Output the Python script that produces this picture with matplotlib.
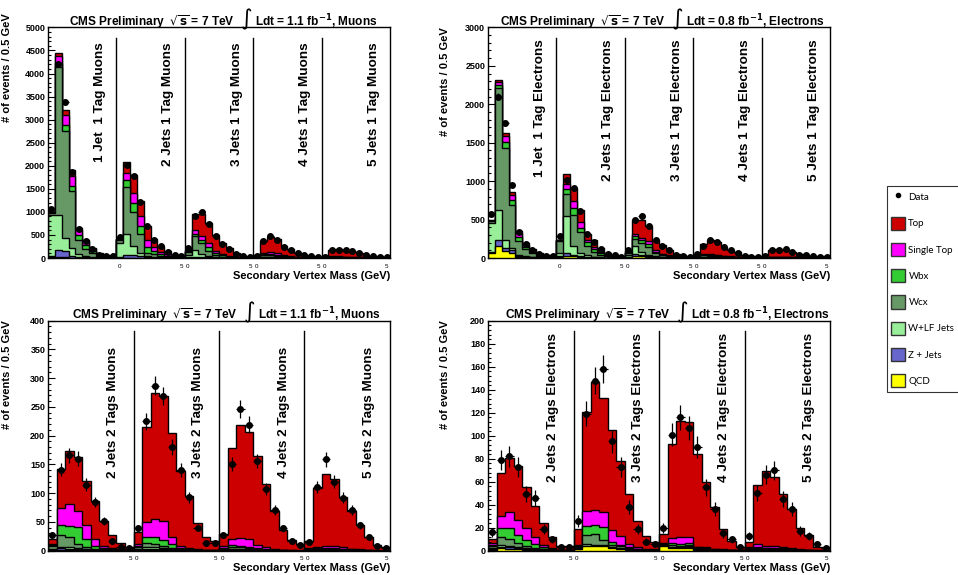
import numpy as np
import matplotlib
matplotlib.use('Agg')
import matplotlib.pyplot as plt
from matplotlib.patches import Patch
from matplotlib.lines import Line2D
from matplotlib.ticker import MultipleLocator
import matplotlib.transforms as mtransforms

plt.rcParams['font.family'] = ['Liberation Sans', 'DejaVu Sans']
plt.rcParams['mathtext.fontset'] = 'dejavusans'
plt.rcParams['mathtext.default'] = 'bf'

# stacking order, bottom to top
samples = ['QCD', 'Z + Jets', 'W+LF Jets', 'Wcx', 'Wbx', 'Single Top', 'Top']
colors = ['#ffff00', '#6666cc', '#99ee99', '#669966', '#33cc33', '#ff00ff', '#cc0000']

# ---- muons, 1 tag (1..5 jets), 10 bins of 0.5 GeV per jet bin ----
mu1_qcd = [20, 25, 20, 10, 5, 3, 2, 1, 0, 0,   5, 5, 5, 3, 2, 1, 1, 0, 0, 0,
           3, 5, 4, 3, 2, 1, 0, 0, 0, 0,       1, 3, 3, 2, 1, 1, 0, 0, 0, 0,
           0, 1, 1, 1, 0, 0, 0, 0, 0, 0]
mu1_z = [30, 155, 130, 40, 20, 10, 5, 3, 2, 1,  20, 60, 50, 30, 15, 8, 4, 2, 1, 1,
         10, 20, 15, 10, 6, 3, 2, 1, 0, 0,     2, 8, 8, 6, 4, 2, 1, 1, 0, 0,
         1, 2, 2, 2, 1, 1, 0, 0, 0, 0]
mu1_wlf = [890, 760, 290, 170, 60, 30, 15, 8, 4, 2,  300, 450, 200, 80, 30, 15, 8, 5, 2, 1,
           60, 140, 74, 37, 20, 10, 5, 3, 1, 1,     5, 20, 15, 10, 6, 4, 2, 1, 1, 0,
           2, 4, 4, 3, 2, 2, 1, 1, 0, 0]
mu1_wcx = [40, 3210, 2310, 1230, 305, 160, 80, 40, 23, 14,  75, 1016, 734, 407, 61, 56, 32, 18, 9, 5,
           50, 318, 232, 94, 32, 16, 10, 5, 3, 2,           8, 35, 35, 25, 15, 8, 4, 3, 2, 1,
           4, 8, 8, 6, 5, 4, 3, 2, 1, 1]
mu1_wbx = [10, 80, 130, 110, 100, 70, 50, 25, 13, 8,  6, 152, 203, 180, 122, 65, 45, 25, 12, 7,
           15, 37, 72, 86, 40, 25, 15, 8, 4, 3,       5, 25, 30, 25, 15, 10, 6, 4, 2, 2,
           3, 8, 8, 7, 6, 5, 3, 2, 2, 1]
mu1_st = [5, 150, 220, 220, 110, 90, 40, 20, 10, 5,  3, 160, 217, 217, 167, 85, 50, 30, 15, 9,
          12, 94, 86, 95, 45, 25, 15, 8, 4, 3,       4, 25, 30, 30, 20, 12, 8, 5, 3, 2,
          2, 10, 12, 10, 8, 6, 4, 3, 2, 2]
mu1_top = [5, 75, 100, 120, 40, 37, 23, 13, 8, 5,  3, 247, 391, 311, 303, 182, 127, 65, 33, 20,
           15, 339, 470, 434, 360, 245, 162, 83, 38, 31,  30, 259, 334, 314, 206, 151, 87, 58, 35, 25,
           18, 132, 160, 136, 115, 90, 61, 42, 31, 26]
mu1_data = [1060, 4200, 3380, 1870, 620, 370, 195, 75, 50, 35,  448, 2023, 1785, 1206, 686, 400, 260, 130, 70, 40,
            217, 905, 1000, 737, 477, 314, 199, 94, 43, 20,     50, 360, 470, 390, 245, 165, 100, 58, 36, 20,
            30, 165, 180, 175, 145, 100, 72, 50, 20, 15]

# ---- electrons, 1 tag ----
el1_qcd = [60, 152, 87, 65, 10, 5, 3, 2, 1, 1,  10, 30, 20, 10, 5, 3, 2, 1, 1, 0,
           8, 30, 25, 15, 8, 4, 2, 1, 1, 0,     2, 5, 5, 4, 3, 2, 1, 1, 0, 0,
           1, 2, 2, 2, 1, 1, 0, 0, 0, 0]
el1_z = [20, 86, 43, 43, 15, 8, 4, 2, 1, 1,  10, 35, 25, 15, 8, 5, 3, 2, 1, 1,
         5, 20, 15, 10, 5, 3, 2, 1, 1, 0,    2, 3, 4, 3, 2, 1, 1, 0, 0, 0,
         1, 1, 1, 1, 1, 0, 0, 0, 0, 0]
el1_wlf = [380, 391, 108, 22, 15, 8, 5, 3, 2, 1,  40, 485, 107, 40, 20, 10, 5, 3, 2, 1,
           20, 100, 40, 20, 10, 6, 4, 2, 1, 1,    6, 10, 8, 6, 4, 3, 2, 1, 1, 0,
           2, 3, 3, 2, 2, 1, 1, 1, 0, 0]
el1_wcx = [15, 1582, 1193, 564, 180, 90, 50, 25, 15, 8,  160, 287, 412, 273, 119, 60, 30, 15, 10, 6,
           30, 97, 120, 95, 37, 20, 12, 6, 4, 2,         8, 15, 15, 12, 8, 5, 4, 2, 1, 1,
           3, 5, 5, 4, 3, 2, 2, 1, 1, 1]
el1_wbx = [8, 43, 73, 65, 50, 30, 20, 12, 7, 4,  8, 65, 86, 52, 52, 35, 20, 10, 6, 4,
           8, 35, 30, 40, 20, 12, 8, 4, 3, 2,    3, 8, 10, 10, 7, 5, 3, 2, 1, 1,
           2, 4, 4, 4, 3, 2, 2, 1, 1, 1]
el1_st = [4, 35, 78, 65, 50, 30, 20, 12, 7, 4,  5, 65, 87, 74, 34, 30, 20, 10, 6, 4,
          6, 30, 30, 40, 20, 13, 8, 4, 3, 2,    2, 6, 8, 8, 6, 5, 3, 2, 2, 1,
          1, 3, 4, 4, 3, 2, 2, 1, 1, 1]
el1_top = [3, 26, 44, 39, 35, 24, 15, 9, 6, 3,  5, 130, 173, 165, 78, 87, 50, 24, 17, 14,
           10, 178, 230, 192, 138, 115, 72, 38, 26, 15,  20, 135, 180, 165, 113, 87, 64, 35, 25, 19,
           12, 90, 98, 91, 65, 48, 36, 26, 19, 19]
el1_data = [570, 2100, 1756, 945, 334, 182, 108, 56, 30, 22,  282, 1019, 906, 607, 316, 208, 121, 48, 35, 17,
            100, 490, 542, 420, 230, 152, 100, 39, 30, 17,    52, 152, 230, 204, 143, 100, 65, 30, 13, 9,
            22, 100, 100, 117, 74, 43, 35, 22, 9, 17]

# ---- muons, 2 tags (2..5 jets) ----
mu2_qcd = [0.5, 1, 1, 0.8, 0.5, 0.3, 0.2, 0.1, 0, 0,  0.5, 1, 1, 0.8, 0.5, 0.3, 0.2, 0.1, 0, 0,
           0.3, 0.5, 0.5, 0.4, 0.3, 0.2, 0.1, 0.1, 0, 0,  0.2, 0.3, 0.3, 0.3, 0.2, 0.1, 0.1, 0, 0, 0]
mu2_z = [1, 3, 2.5, 1.5, 1, 0.8, 0.4, 0.2, 0.1, 0,  1, 1.9, 1.9, 1.5, 1, 0.5, 0.3, 0.2, 0.1, 0.1,
         0.5, 1, 1, 0.8, 0.5, 0.4, 0.2, 0.1, 0.1, 0,  0.5, 0.5, 0.5, 0.5, 0.4, 0.3, 0.2, 0.1, 0, 0]
mu2_wlf = [2, 3, 2.5, 1.7, 1.5, 0.8, 0.5, 0.3, 0.2, 0.1,  1.5, 2.9, 2.9, 2.3, 1.5, 0.7, 0.5, 0.3, 0.2, 0.1,
           1, 1.5, 1.5, 1.2, 0.8, 0.6, 0.3, 0.2, 0.1, 0.1,  0.8, 0.8, 0.8, 0.8, 0.6, 0.4, 0.3, 0.2, 0.1, 0]
mu2_wcx = [4, 20, 17, 7, 2.8, 1, 1, 0.5, 0.3, 0.2,  3, 7, 5.8, 3.4, 1.6, 1, 0.5, 0.3, 0.2, 0.2,
           2, 4, 3, 2.6, 1.2, 0.8, 0.4, 0.2, 0.1, 0.1,  1.3, 1.5, 1.5, 1.3, 1, 0.6, 0.4, 0.2, 0.1, 0.1]
mu2_wbx = [2, 18, 20.5, 29.6, 14, 5.8, 2, 1, 0.5, 0.3,  2, 11.5, 11.4, 10.5, 7, 1.5, 1, 0.5, 0.3, 0.2,
           1.5, 3, 2, 2, 1.2, 1, 0.5, 0.3, 0.2, 0.1,  1, 1.4, 1.5, 1.3, 1, 0.8, 0.5, 0.3, 0.1, 0.1]
mu2_st = [2, 29, 37, 29, 25, 11, 4, 2, 1, 0.5,  3, 26, 33, 33, 11.4, 4, 2, 1, 0.5, 0.4,
          2.5, 9.7, 14.6, 12.7, 5.9, 4, 2, 1, 0.5, 0.3,  1.5, 2.5, 4.1, 3.5, 2.5, 1.6, 1, 0.5, 0.3, 0.2]
mu2_top = [8.5, 68, 92.5, 93.4, 76.4, 66.3, 44, 23, 11, 5,  22, 164.6, 217.6, 218, 181, 131, 91, 46, 23, 16.4,
           20.5, 158.3, 196.4, 187.3, 155, 109.5, 65, 33.5, 17.6, 11,  11.5, 102.6, 124.3, 117, 88.3, 65.8, 42, 22, 9.3, 5.4]
mu2_data = [28, 141, 166, 160, 115, 85, 52, 17, 7, 5,  39, 225, 287, 269, 180, 140, 93, 40, 13, 14,
            28, 151, 246, 219, 156, 108, 71, 39, 17, 10,  16, 110, 159, 120, 92, 71, 44, 23, 8, 4]

# ---- electrons, 2 tags ----
el2_qcd = [0.5, 2, 1.5, 1.2, 1, 0.7, 0.5, 0.3, 0.1, 0.1,  1.5, 4, 4, 4, 2, 1.5, 1, 0.5, 0.3, 0.2,
           4, 2, 2, 2.5, 1, 0.5, 0.3, 0.2, 0.1, 0,  0.5, 0.8, 0.6, 0.6, 0.5, 0.4, 0.2, 0.1, 0, 0]
el2_z = [1, 1, 1.4, 1, 0.8, 0.6, 0.4, 0.2, 0.1, 0.1,  0.5, 0.5, 0.5, 0.5, 0.5, 0.4, 0.3, 0.2, 0.1, 0.1,
         0.5, 0.5, 0.5, 0.5, 0.3, 0.3, 0.2, 0.1, 0.1, 0,  0.3, 0.4, 0.3, 0.3, 0.3, 0.2, 0.1, 0.1, 0, 0]
el2_wlf = [1, 2, 1.1, 0.7, 0.7, 0.5, 0.4, 0.2, 0.1, 0.1,  0.5, 0.9, 0.4, 0.4, 0.4, 0.3, 0.2, 0.2, 0.1, 0.1,
           0.5, 1, 1, 1, 0.5, 0.3, 0.2, 0.1, 0.1, 0,  0.3, 0.5, 0.4, 0.4, 0.3, 0.2, 0.1, 0.1, 0, 0]
el2_wcx = [1.5, 6.6, 5.9, 3.5, 1.8, 0.8, 0.5, 0.3, 0.1, 0.1,  1, 8.2, 9.6, 4.4, 2, 1.5, 0.6, 0.4, 0.2, 0.1,
           0.5, 1.4, 1, 1, 0.5, 0.5, 0.3, 0.2, 0.1, 0.1,  0.5, 0.8, 0.7, 0.6, 0.5, 0.4, 0.2, 0.1, 0.1, 0.1]
el2_wbx = [1, 7.8, 10.1, 7.2, 5, 2.9, 1.1, 0.5, 0.2, 0.2,  0.5, 8.1, 7.8, 11.6, 2.9, 1.2, 0.8, 0.5, 0.3, 0.2,
           0.5, 1.5, 1.5, 2, 0.5, 0.5, 0.3, 0.2, 0.1, 0.1,  0.5, 0.8, 0.7, 0.6, 0.5, 0.4, 0.2, 0.1, 0.1, 0.1]
el2_st = [1.5, 11, 13.3, 13.1, 10.1, 6.1, 2, 1, 0.4, 0.4,  1, 13.1, 13.1, 12.4, 10.2, 7.9, 2.9, 1.5, 0.8, 0.5,
          1, 4.9, 5.6, 4.6, 0.7, 0.8, 0.5, 0.3, 0.2, 0.1,  1, 2.2, 1.6, 1.5, 1.4, 0.8, 0.4, 0.3, 0.1, 0.1]
el2_top = [3.4, 37.6, 47, 46.9, 35.6, 27.2, 19.4, 9.1, 3.3, 3,  13.8, 86.2, 111, 99.7, 87, 65.2, 43.2, 22.5, 11, 6.6,
           7.2, 81.2, 101.4, 100, 80.3, 57.1, 35.9, 17.5, 7.7, 3.2,  4.7, 51.5, 65.3, 60.3, 45.5, 33.6, 18.2, 12.5, 3.2, 2.6]
el2_data = [16, 79, 82, 73, 49, 46, 19, 10, 3.5, 3.5,  26, 119, 148, 158, 95, 73, 38, 19, 8, 6,
            20, 101, 116, 107, 90, 55, 36, 15, 10, 3,  13, 50, 66, 70, 45, 36, 17, 13, 6, 2]

mu1_labels = ['1 Jet  1 Tag Muons', '2 Jets 1 Tag Muons', '3 Jets 1 Tag Muons',
              '4 Jets 1 Tag Muons', '5 Jets 1 Tag Muons']
el1_labels = ['1 Jet  1 Tag Electrons', '2 Jets 1 Tag Electrons', '3 Jets 1 Tag Electrons',
              '4 Jets 1 Tag Electrons', '5 Jets 1 Tag Electrons']
mu2_labels = ['2 Jets 2 Tags Muons', '3 Jets 2 Tags Muons', '4 Jets 2 Tags Muons', '5 Jets 2 Tags Muons']
el2_labels = ['2 Jets 2 Tags Electrons', '3 Jets 2 Tags Electrons', '4 Jets 2 Tags Electrons',
              '5 Jets 2 Tags Electrons']

title_left = r'CMS Preliminary  $\sqrt{s}$ = 7 TeV'
mu_lumi = r'Ldt = 1.1 fb$^{-1}$, Muons'
el_lumi = r'Ldt = 0.8 fb$^{-1}$, Electrons'


def draw_panel(ax, comps, data, labels, ymax, major, minor, lumi, int_x, lab_y, first_lo):
    nb = len(data)
    nsec = nb // 10
    edges = np.arange(nb + 1) * 0.5
    cum = np.cumsum(np.array(comps, dtype=float), axis=0)
    for k in range(len(comps) - 1, -1, -1):
        ax.stairs(cum[k], edges, fill=True, facecolor=colors[k], edgecolor='black', linewidth=1.0)
    d = np.array(data, dtype=float)
    centers = edges[:-1] + 0.25
    ax.errorbar(centers, d, yerr=np.sqrt(d), xerr=0.25, fmt='o', color='black',
                ms=4, elinewidth=0.9, capsize=0, zorder=5)

    trans = mtransforms.blended_transform_factory(ax.transData, ax.transAxes)
    for i in range(1, nsec):
        ax.axvline(5 * i, ymin=0, ymax=0.955, color='black', lw=1.0)
    for i, lab in enumerate(labels):
        ax.text(5 * i + 3.8, lab_y, lab, transform=trans, rotation=90, ha='center', va='top',
                fontsize=9.7, fontweight='bold')

    # per-jet-bin axis numbers under the frame
    for i in range(nsec):
        if i == 0 and not first_lo:
            continue
        if i > 0:
            ax.text(5 * i + 0.08, -0.035, '0', transform=trans, ha='left', va='center', fontsize=4.5)
        ax.text(5 * (i + 1) - 0.1, -0.035, '5', transform=trans, ha='right', va='center', fontsize=4.5)

    # header: CMS Preliminary ... with a tall integral sign
    ax.text(int_x - 0.036, 1.006, title_left, transform=ax.transAxes, ha='right', va='baseline',
            fontsize=8.6, fontweight='bold')
    ax.text(int_x, 1.035, '\u222b', transform=ax.transAxes, ha='center', va='center',
            fontsize=16, family='DejaVu Sans')
    ax.text(int_x + 0.024, 1.006, lumi, transform=ax.transAxes, ha='left', va='baseline',
            fontsize=8.6, fontweight='bold')

    ax.set_xlim(0, nb * 0.5)
    ax.set_ylim(0, ymax)
    ax.set_xticks([])
    ax.yaxis.set_major_locator(MultipleLocator(major))
    ax.yaxis.set_minor_locator(MultipleLocator(minor))
    ax.tick_params(axis='y', which='major', direction='in', length=5, width=0.8, labelsize=6.5, pad=2)
    ax.tick_params(axis='y', which='minor', direction='in', length=2.5, width=0.8)
    for t in ax.get_yticklabels():
        t.set_fontweight('bold')
    for s in ax.spines.values():
        s.set_linewidth(1.0)
    ax.set_ylabel('# of events / 0.5 GeV', fontsize=8, fontweight='bold', loc='top')
    ax.set_xlabel('Secondary Vertex Mass (GeV)', fontsize=8, fontweight='bold', loc='right')
    ax.xaxis.set_label_coords(1.0, -0.055)


fig = plt.figure(figsize=(9.58, 5.75), dpi=100)
ax_tl = fig.add_axes([48 / 958, 1 - 258 / 575, 342 / 958, 230.6 / 575])
ax_tr = fig.add_axes([488 / 958, 1 - 258 / 575, 342 / 958, 230.6 / 575])
ax_bl = fig.add_axes([48 / 958, 1 - 550.7 / 575, 342 / 958, 230 / 575])
ax_br = fig.add_axes([488 / 958, 1 - 550.7 / 575, 342 / 958, 230 / 575])

draw_panel(ax_tl, [mu1_qcd, mu1_z, mu1_wlf, mu1_wcx, mu1_wbx, mu1_st, mu1_top], mu1_data,
           mu1_labels, 5000, 500, 100, mu_lumi, 0.582, 0.935, False)
draw_panel(ax_tr, [el1_qcd, el1_z, el1_wlf, el1_wcx, el1_wbx, el1_st, el1_top], el1_data,
           el1_labels, 3000, 500, 100, el_lumi, 0.555, 0.947, False)
draw_panel(ax_bl, [mu2_qcd, mu2_z, mu2_wlf, mu2_wcx, mu2_wbx, mu2_st, mu2_top], mu2_data,
           mu2_labels, 400, 50, 10, mu_lumi, 0.59, 0.887, True)
draw_panel(ax_br, [el2_qcd, el2_z, el2_wlf, el2_wcx, el2_wbx, el2_st, el2_top], el2_data,
           el2_labels, 200, 20, 4, el_lumi, 0.569, 0.945, True)

ax_tl.yaxis.set_label_coords(-0.105, 1.06)
ax_tr.yaxis.set_label_coords(-0.11, 1.0)
ax_bl.yaxis.set_label_coords(-0.105, 1.0)
ax_br.yaxis.set_label_coords(-0.11, 1.0)

handles = [Line2D([], [], marker='o', color='black', linestyle='none', markersize=3)]
names = ['Data']
for k in range(len(samples) - 1, -1, -1):
    handles.append(Patch(facecolor=colors[k], edgecolor='#333333', linewidth=1))
    names.append(samples[k])
leg = fig.legend(handles, names, loc='upper left', bbox_to_anchor=(887 / 958, 1 - 186 / 575),
                 frameon=True, fancybox=False, edgecolor='black',
                 prop={'family': 'Lato', 'size': 7}, handlelength=1.4, handleheight=1.7,
                 labelspacing=1.35, borderpad=0.45, handletextpad=0.35, borderaxespad=0)
leg.get_frame().set_linewidth(0.8)

fig.savefig('out.png', dpi=100)
